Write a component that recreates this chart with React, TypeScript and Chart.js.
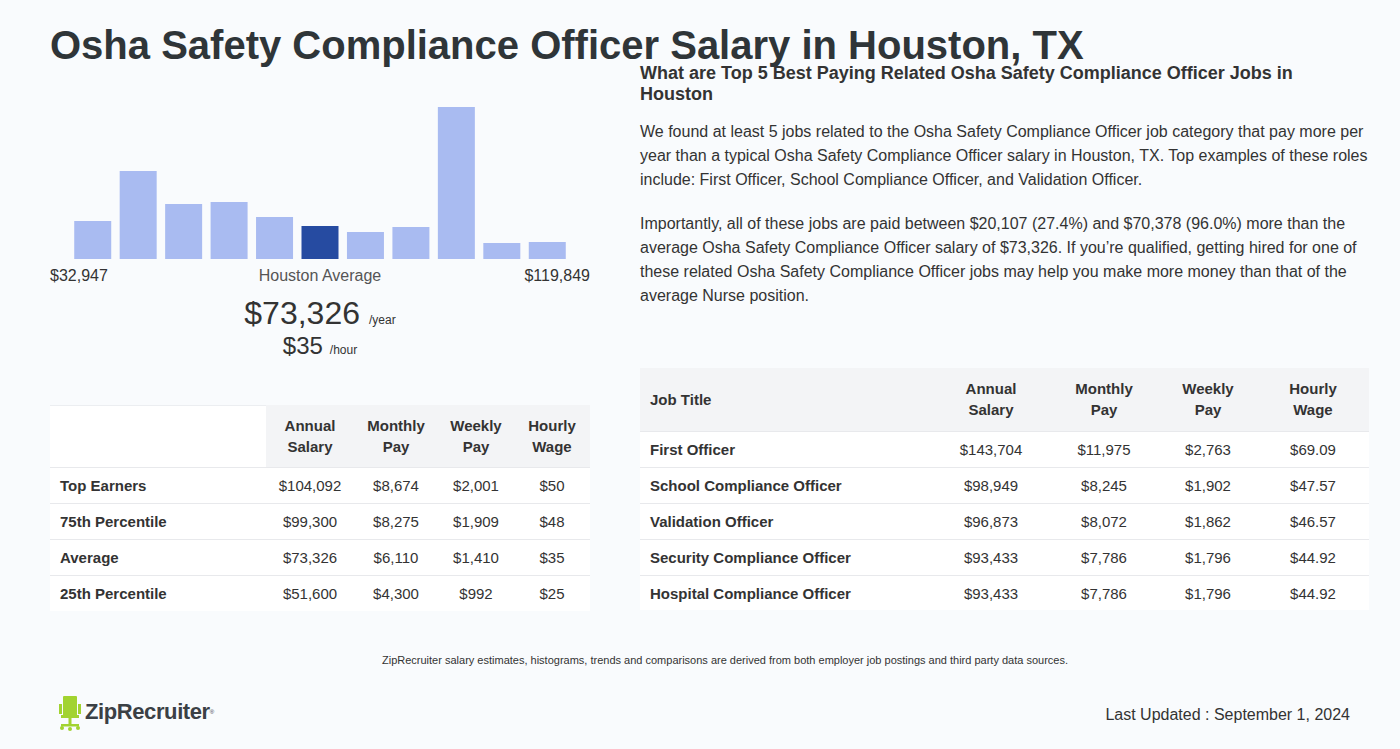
import React, { useEffect, useRef } from "react";
import { Chart, registerables } from "chart.js";

Chart.register(...registerables);

// ---- data ----
const binLabels = ["1", "2", "3", "4", "5", "6", "7", "8", "9", "10", "11"];
const binCounts = [38, 88, 55, 57, 42, 33, 27, 32, 152, 16, 17];
const highlightBin = 5;
const rangeMin = "$32,947";
const rangeMax = "$119,849";
const avgYear = "$73,326";
const avgHour = "$35";

const leftHeaders = [["Annual", "Salary"], ["Monthly", "Pay"], ["Weekly", "Pay"], ["Hourly", "Wage"]];
const leftRowLabels = ["Top Earners", "75th Percentile", "Average", "25th Percentile"];
const leftAnnual = ["$104,092", "$99,300", "$73,326", "$51,600"];
const leftMonthly = ["$8,674", "$8,275", "$6,110", "$4,300"];
const leftWeekly = ["$2,001", "$1,909", "$1,410", "$992"];
const leftHourly = ["$50", "$48", "$35", "$25"];

const jobTitles = [
  "First Officer",
  "School Compliance Officer",
  "Validation Officer",
  "Security Compliance Officer",
  "Hospital Compliance Officer",
];
const jobAnnual = ["$143,704", "$98,949", "$96,873", "$93,433", "$93,433"];
const jobMonthly = ["$11,975", "$8,245", "$8,072", "$7,786", "$7,786"];
const jobWeekly = ["$2,763", "$1,902", "$1,862", "$1,796", "$1,796"];
const jobHourly = ["$69.09", "$47.57", "$46.57", "$44.92", "$44.92"];

const LIGHT = "#a9bbf1";
const DARK = "#264ba1";
const FONT = '"Liberation Sans", Arial, Helvetica, sans-serif';
const TEXT = "#333";

function Histogram() {
  const ref = useRef<HTMLCanvasElement | null>(null);
  useEffect(() => {
    if (!ref.current) return;
    const chart = new Chart(ref.current, {
      type: "bar",
      data: {
        labels: binLabels,
        datasets: [
          {
            data: binCounts,
            backgroundColor: binCounts.map((_, i) => (i === highlightBin ? DARK : LIGHT)),
            borderWidth: 0,
            barPercentage: 0.814,
            categoryPercentage: 1,
          },
        ],
      },
      options: {
        animation: false,
        responsive: false,
        maintainAspectRatio: false,
        layout: { padding: { left: 20, right: 20, top: 0, bottom: 0 } },
        plugins: { legend: { display: false }, tooltip: { enabled: false } },
        events: [],
        scales: {
          x: { display: false },
          y: { display: false, min: 0, max: 159 },
        },
      },
    });
    return () => chart.destroy();
  }, []);
  return (
    <canvas
      ref={ref}
      width={540}
      height={159}
      style={{ position: "absolute", left: 50, top: 100, width: 540, height: 159, display: "block" }}
    />
  );
}

const abs = (s: React.CSSProperties): React.CSSProperties => ({ position: "absolute", ...s });

function LeftTable() {
  const cols = [310, 396, 476, 552];
  const rowsData = [leftAnnual, leftMonthly, leftWeekly, leftHourly];
  return (
    <div style={abs({ left: 50, top: 405, width: 540, height: 206 })}>
      <div style={abs({ left: 0, top: 0, width: 540, height: 1, background: "#eceef1" })} />
      <div style={abs({ left: 0, top: 1, width: 216, height: 61, background: "#ffffff" })} />
      <div style={abs({ left: 216, top: 0, width: 324, height: 62, background: "#f3f4f6" })} />
      {leftHeaders.map((h, i) => (
        <div
          key={i}
          style={abs({
            left: cols[i] - 50 - 50,
            width: 100,
            top: 10,
            textAlign: "center",
            fontWeight: "bold",
            fontSize: 15,
            lineHeight: "21px",
            color: TEXT,
          })}
        >
          {h[0]}
          <br />
          {h[1]}
        </div>
      ))}
      {leftRowLabels.map((lab, r) => (
        <div key={r} style={abs({ left: 0, top: 62 + r * 36, width: 540, height: 36, background: "#ffffff" })}>
          <div style={abs({ left: 0, top: 0, width: 540, height: 1, background: "#e8e9ec" })} />
          <div style={abs({ left: 10, top: 11, fontSize: 15, lineHeight: "16px", fontWeight: "bold", color: TEXT })}>
            {lab}
          </div>
          {rowsData.map((col, c) => (
            <div
              key={c}
              style={abs({
                left: cols[c] - 50 - 60,
                width: 120,
                top: 11,
                textAlign: "center",
                fontSize: 15,
                lineHeight: "16px",
                color: TEXT,
              })}
            >
              {col[r]}
            </div>
          ))}
        </div>
      ))}
    </div>
  );
}

function RightTable() {
  const cols = [991, 1104, 1208, 1313];
  const rowsData = [jobAnnual, jobMonthly, jobWeekly, jobHourly];
  return (
    <div style={abs({ left: 640, top: 368, width: 729, height: 242 })}>
      <div style={abs({ left: 0, top: 0, width: 729, height: 63, background: "#f3f4f6" })} />
      <div
        style={abs({ left: 10, top: 24, fontSize: 15, lineHeight: "16px", fontWeight: "bold", color: TEXT })}
      >
        Job Title
      </div>
      {leftHeaders.map((h, i) => (
        <div
          key={i}
          style={abs({
            left: cols[i] - 640 - 50,
            width: 100,
            top: 10,
            textAlign: "center",
            fontWeight: "bold",
            fontSize: 15,
            lineHeight: "21px",
            color: TEXT,
          })}
        >
          {h[0]}
          <br />
          {h[1]}
        </div>
      ))}
      {jobTitles.map((t, r) => (
        <div key={r} style={abs({ left: 0, top: 63 + r * 36, width: 729, height: r === 4 ? 35 : 36, background: "#ffffff" })}>
          <div style={abs({ left: 0, top: 0, width: 729, height: 1, background: "#e8e9ec" })} />
          <div style={abs({ left: 10, top: 11, fontSize: 15, lineHeight: "16px", fontWeight: "bold", color: TEXT })}>
            {t}
          </div>
          {rowsData.map((col, c) => (
            <div
              key={c}
              style={abs({
                left: cols[c] - 640 - 60,
                width: 120,
                top: 11,
                textAlign: "center",
                fontSize: 15,
                lineHeight: "16px",
                color: TEXT,
              })}
            >
              {col[r]}
            </div>
          ))}
        </div>
      ))}
    </div>
  );
}

function Logo() {
  return (
    <div style={abs({ left: 58, top: 694, width: 170, height: 40 })}>
      <svg width="26" height="38" viewBox="0 0 26 38" style={{ position: "absolute", left: 0, top: 0 }}>
        <rect x="5" y="2" width="14" height="20" rx="1" fill="#a2d330" />
        <rect x="1" y="10" width="3" height="10" fill="#a2d330" />
        <rect x="20" y="10" width="3" height="10" fill="#a2d330" />
        <rect x="3" y="21" width="18" height="3" fill="#a2d330" />
        <rect x="10.5" y="24" width="3" height="8" fill="#a2d330" />
        <rect x="3" y="30" width="18" height="2.5" fill="#a2d330" />
        <circle cx="4" cy="34" r="2" fill="#a2d330" />
        <circle cx="20" cy="34" r="2" fill="#a2d330" />
        <circle cx="12" cy="35" r="2" fill="#a2d330" />
      </svg>
      <div
        style={abs({
          left: 27,
          top: 7,
          fontSize: 22,
          lineHeight: "22px",
          fontWeight: "bold",
          color: "#3b4045",
          letterSpacing: -0.4,
          whiteSpace: "nowrap",
        })}
      >
        ZipRecruiter<span style={{ fontSize: 6, verticalAlign: "top", fontWeight: "normal" }}>®</span>
      </div>
    </div>
  );
}

export default function App() {
  useEffect(() => {
    document.body.style.margin = "0";
    document.body.style.background = "#f9fbfd";
  }, []);
  const para1 = [
    "We found at least 5 jobs related to the Osha Safety Compliance Officer job category that pay more per",
    "year than a typical Osha Safety Compliance Officer salary in Houston, TX. Top examples of these roles",
    "include: First Officer, School Compliance Officer, and Validation Officer.",
  ];
  const para2 = [
    "Importantly, all of these jobs are paid between $20,107 (27.4%) and $70,378 (96.0%) more than the",
    "average Osha Safety Compliance Officer salary of $73,326. If you\u2019re qualified, getting hired for one of",
    "these related Osha Safety Compliance Officer jobs may help you make more money than that of the",
    "average Nurse position.",
  ];
  return (
    <div
      style={{
        position: "absolute",
        left: 0,
        top: 0,
        width: 1400,
        height: 749,
        overflow: "hidden",
        background: "#f9fbfd",
        fontFamily: FONT,
        color: TEXT,
      }}
    >
      <div
        style={abs({
          left: 50,
          top: 27,
          fontSize: 40,
          lineHeight: "36px",
          fontWeight: "bold",
          color: "#2f3538",
          whiteSpace: "nowrap",
        })}
      >
        Osha Safety Compliance Officer Salary in Houston, TX
      </div>

      <Histogram />
      <div style={abs({ left: 50, top: 268, fontSize: 16, lineHeight: "16px", color: TEXT })}>{rangeMin}</div>
      <div style={abs({ left: 220, width: 200, top: 268, fontSize: 16, lineHeight: "16px", color: "#555", textAlign: "center" })}>
        Houston Average
      </div>
      <div style={abs({ left: 390, width: 200, top: 268, fontSize: 16, lineHeight: "16px", color: TEXT, textAlign: "right" })}>
        {rangeMax}
      </div>
      <div
        style={abs({
          left: 50,
          width: 540,
          top: 297,
          display: "flex",
          justifyContent: "center",
          alignItems: "baseline",
          whiteSpace: "nowrap",
        })}
      >
        <span style={{ fontSize: 32, lineHeight: "32px", color: TEXT }}>{avgYear}</span>
        <span style={{ fontSize: 12, marginLeft: 9, color: TEXT }}>/year</span>
      </div>
      <div
        style={abs({
          left: 50,
          width: 540,
          top: 334,
          display: "flex",
          justifyContent: "center",
          alignItems: "baseline",
          whiteSpace: "nowrap",
        })}
      >
        <span style={{ fontSize: 24, lineHeight: "24px", color: TEXT }}>{avgHour}</span>
        <span style={{ fontSize: 12, marginLeft: 7, color: TEXT }}>/hour</span>
      </div>

      <LeftTable />

      <div
        style={abs({
          left: 640,
          top: 63,
          fontSize: 18,
          lineHeight: "21px",
          fontWeight: "bold",
          color: TEXT,
          whiteSpace: "nowrap",
        })}
      >
        What are Top 5 Best Paying Related Osha Safety Compliance Officer Jobs in
        <br />
        Houston
      </div>
      <div style={abs({ left: 640, top: 120, fontSize: 16, lineHeight: "24px", color: TEXT, whiteSpace: "nowrap" })}>
        {para1.map((l, i) => (
          <div key={i}>{l}</div>
        ))}
      </div>
      <div style={abs({ left: 640, top: 212, fontSize: 16, lineHeight: "24px", color: TEXT, whiteSpace: "nowrap" })}>
        {para2.map((l, i) => (
          <div key={i}>{l}</div>
        ))}
      </div>

      <RightTable />

      <div style={abs({ left: 0, width: 1450, top: 654, fontSize: 11, lineHeight: "12px", color: TEXT, textAlign: "center" })}>
        ZipRecruiter salary estimates, histograms, trends and comparisons are derived from both employer job postings and third party data sources.
      </div>

      <Logo />

      <div style={abs({ left: 1000, width: 350, top: 707, fontSize: 16, lineHeight: "16px", color: TEXT, textAlign: "right" })}>
        Last Updated : September 1, 2024
      </div>
    </div>
  );
}
